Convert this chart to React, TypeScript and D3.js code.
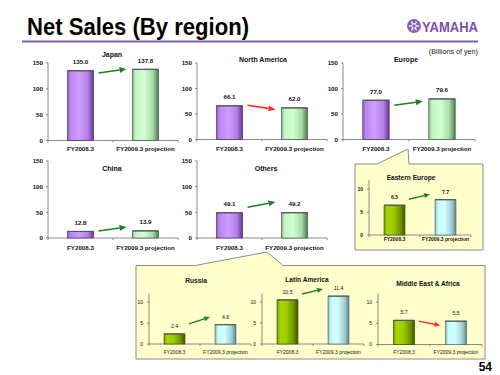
import React from "react";
import * as d3 from "d3";

// ---------- data ----------
const categories = ["FY2008.3", "FY2009.3 projection"];
const mainRegions = ["Japan", "North America", "Europe", "China", "Others"];
const mainPrev = [135.0, 66.1, 77.0, 12.8, 49.1];
const mainProj = [137.8, 62.0, 79.6, 13.9, 49.2];
const mainTicks = [0, 50, 100, 150];
const mainArrowFrom = [130.8, 67, 67, 13.6, 60];
const mainArrowTo = [138.5, 59, 75, 21.4, 70];

const subRegions = ["Eastern Europe", "Russia", "Latin America", "Middle East & Africa"];
const subPrev = [6.5, 2.4, 10.5, 5.7];
const subProj = [7.7, 4.6, 11.4, 5.5];
const subTicks = [0, 5, 10];
const subArrowFrom = [7.8, 4.8, 11.9, 5.5];
const subArrowTo = [8.9, 6.4, 13.1, 4.5];

// ---------- layout ----------
const mainFrames = [
  { x0: 48, x1: 178, yTop: 63, yBase: 140.5, titleX: 112, titleY: 57, labelY: 150.5 },
  { x0: 197, x1: 327, yTop: 63, yBase: 139.5, titleX: 263, titleY: 61.5, labelY: 150.5 },
  { x0: 343, x1: 475, yTop: 63, yBase: 139.5, titleX: 406, titleY: 61.5, labelY: 150.5 },
  { x0: 48, x1: 178, yTop: 161, yBase: 238, titleX: 112, titleY: 171, labelY: 250 },
  { x0: 197, x1: 327, yTop: 161, yBase: 238, titleX: 266, titleY: 171, labelY: 250 },
];
const subFrames = [
  { x0: 369, x1: 471, yTop: 180, yBase: 235, titleX: 411, titleY: 180, labelY: 241, bold: true },
  { x0: 149, x1: 251, yTop: 293.6, yBase: 344, titleX: 196, titleY: 283, labelY: 354, bold: false },
  { x0: 262, x1: 364, yTop: 293.6, yBase: 344, titleX: 307, titleY: 282, labelY: 354, bold: false },
  { x0: 378, x1: 482, yTop: 293.6, yBase: 344.5, titleX: 428, titleY: 285.5, labelY: 354, bold: false },
];

const FONT = "'Liberation Sans', Arial, Helvetica, sans-serif";
const GREEN = "#1f7f1f";
const RED = "#ff2a2a";

function Arrow({ x1, y1, x2, y2, color, head, hw, sw }: any) {
  const a = Math.atan2(y2 - y1, x2 - x1);
  const bx = x2 - head * Math.cos(a);
  const by = y2 - head * Math.sin(a);
  const px = (Math.sin(a) * hw) / 2;
  const py = (-Math.cos(a) * hw) / 2;
  return (
    <g>
      <line x1={x1} y1={y1} x2={bx} y2={by} stroke={color} strokeWidth={sw} />
      <polygon points={`${x2},${y2} ${bx + px},${by + py} ${bx - px},${by - py}`} fill={color} />
    </g>
  );
}

function BarChart({ frame, title, values, arrow, ticks, domainMax, small, grads }: any) {
  const x = d3
    .scaleBand<string>()
    .domain(categories)
    .range([frame.x0, frame.x1])
    .paddingInner(small ? 0.59 : 0.6)
    .paddingOuter(small ? 0.295 : 0.3);
  const y = d3.scaleLinear().domain([0, domainMax]).range([frame.yBase, frame.yTop]);
  const tickFs = small ? 5 : 6.2;
  const tickW = small ? (frame.bold ? 700 : 400) : 700;
  const labFs = small ? 5 : 6.2;
  const valFs = small ? 5.2 : 6.2;
  const titleFs = small ? 6.6 : 7;
  const axisColor = "#6e6e6e";
  const mid = (x(categories[0])! + x.bandwidth() + x(categories[1])!) / 2;
  const up = values[1] >= values[0];
  const arrowColor = up ? GREEN : RED;
  const ax1 = x(categories[0])! + x.bandwidth() + (small ? 4 : 5);
  const ax2 = x(categories[1])! - (small ? 5 : 6);
  const strokes: Record<string, string> = { purple: "#4b2d6b", green: "#3c5c3c", yg: "#3d5200", blue: "#4d6f78" };
  return (
    <g fontFamily={FONT}>
      <text x={frame.titleX} y={frame.titleY} textAnchor="middle" fontSize={titleFs} fontWeight={700} fill="#111">
        {title}
      </text>
      {/* y axis */}
      <line x1={frame.x0} x2={frame.x0} y1={y(domainMax)} y2={frame.yBase} stroke={axisColor} strokeWidth={0.8} />
      {ticks.map((t: number) => (
        <g key={t}>
          <line x1={frame.x0 - 2} x2={frame.x0} y1={y(t)} y2={y(t)} stroke={axisColor} strokeWidth={0.8} />
          <text
            x={frame.x0 - (small ? 6 : 5)}
            y={y(t)}
            dy="0.35em"
            textAnchor="end"
            fontSize={tickFs}
            fontWeight={tickW}
            fill="#111"
          >
            {t}
          </text>
        </g>
      ))}
      {/* x axis */}
      <line x1={frame.x0} x2={frame.x1} y1={frame.yBase} y2={frame.yBase} stroke={axisColor} strokeWidth={0.8} />
      {[frame.x0, mid, frame.x1].map((tx: number, i: number) => (
        <line key={i} x1={tx} x2={tx} y1={frame.yBase} y2={frame.yBase + 2} stroke={axisColor} strokeWidth={0.8} />
      ))}
      {categories.map((c, i) => (
        <g key={c}>
          <rect
            x={x(c)}
            y={y(values[i])}
            width={x.bandwidth()}
            height={frame.yBase - y(values[i])}
            fill={`url(#${grads[i]})`}
            stroke={strokes[grads[i]]}
            strokeWidth={0.7}
          />
          <line
            x1={x(c)}
            x2={x(c)! + x.bandwidth()}
            y1={y(values[i])}
            y2={y(values[i])}
            stroke="#555"
            strokeWidth={1.2}
          />
          <text
            x={x(c)! + x.bandwidth() / 2}
            y={y(values[i]) - (small ? 6 : 6.5)}
            textAnchor="middle"
            fontSize={valFs}
            fontWeight={small && !frame.bold ? 400 : 700}
            fill="#111"
          >
            {values[i].toFixed(1)}
          </text>
          <text
            x={x(c)! + x.bandwidth() / 2}
            y={frame.labelY}
            textAnchor="middle"
            fontSize={labFs}
            fontWeight={small && !frame.bold ? 400 : 700}
            fill="#111"
          >
            {c}
          </text>
        </g>
      ))}
      <Arrow
        x1={ax1}
        y1={y(arrow[0])}
        x2={ax2}
        y2={y(arrow[1])}
        color={arrowColor}
        head={small ? 6 : 7}
        hw={small ? 5 : 6}
        sw={small ? 1.4 : 1.6}
      />
    </g>
  );
}

export default function App() {
  return (
    <svg
      width={500}
      height={375}
      viewBox="0 0 500 375"
      style={{ position: "absolute", left: 0, top: 0, display: "block", background: "#fff", opacity: 0.999 }}
    >
      <defs>
        <linearGradient id="purple" x1="0" x2="1" y1="0" y2="0">
          <stop offset="0" stopColor="#8e60bc" />
          <stop offset="0.12" stopColor="#bb88f2" />
          <stop offset="0.45" stopColor="#cf9cff" />
          <stop offset="0.78" stopColor="#b580e6" />
          <stop offset="1" stopColor="#66398e" />
        </linearGradient>
        <linearGradient id="green" x1="0" x2="1" y1="0" y2="0">
          <stop offset="0" stopColor="#8cb88c" />
          <stop offset="0.12" stopColor="#c4f4c4" />
          <stop offset="0.45" stopColor="#d2ffd2" />
          <stop offset="0.78" stopColor="#a9d9a9" />
          <stop offset="1" stopColor="#4f7a4f" />
        </linearGradient>
        <linearGradient id="yg" x1="0" x2="1" y1="0" y2="0">
          <stop offset="0" stopColor="#7a9a00" />
          <stop offset="0.15" stopColor="#a6d600" />
          <stop offset="0.45" stopColor="#9dcc00" />
          <stop offset="0.8" stopColor="#6f9200" />
          <stop offset="1" stopColor="#3f5400" />
        </linearGradient>
        <linearGradient id="blue" x1="0" x2="1" y1="0" y2="0">
          <stop offset="0" stopColor="#8fb9bf" />
          <stop offset="0.15" stopColor="#c8fbff" />
          <stop offset="0.45" stopColor="#d2ffff" />
          <stop offset="0.8" stopColor="#a2ccd2" />
          <stop offset="1" stopColor="#5d8389" />
        </linearGradient>
      </defs>

      {/* header */}
      <text x={27} y={35} fontFamily={FONT} fontSize={24} fontWeight={700} fill="#000" textLength={222} lengthAdjust="spacingAndGlyphs">
        Net Sales (By region)
      </text>
      <line x1={22} x2={478} y1={41.5} y2={41.5} stroke="#8560ad" strokeWidth={2} />
      <g>
        <circle cx={414} cy={26} r={7} fill="#8a63b8" />
        {[0, 60, 120].map((a) => (
          <line
            key={a}
            x1={414 + 5 * Math.cos((a * Math.PI) / 180)}
            y1={26 + 5 * Math.sin((a * Math.PI) / 180)}
            x2={414 - 5 * Math.cos((a * Math.PI) / 180)}
            y2={26 - 5 * Math.sin((a * Math.PI) / 180)}
            stroke="#fff"
            strokeWidth={1.2}
          />
        ))}
        <circle cx={414} cy={26} r={2.2} fill="#8a63b8" stroke="#fff" strokeWidth={0.8} />
      </g>
      <text x={422} y={32} fontFamily={FONT} fontSize={15} fontWeight={700} fill="#7b4fae" textLength={56} lengthAdjust="spacingAndGlyphs">
        YAMAHA
      </text>
      <text x={478} y={54} fontFamily={FONT} fontSize={7.2} textAnchor="end" fill="#222">
        (Billions of yen)
      </text>

      {/* callouts */}
      <path
        d="M355,164 L377,164 L408,149 L409,164 L483,164 L483,250 L355,250 Z"
        fill="#ffffcc"
        stroke="#8c8c8c"
        strokeWidth={1}
      />
      <path
        d="M136,265.5 L195,265.5 L267,252 L283,265.5 L485,265.5 L485,359 L136,359 Z"
        fill="#ffffcc"
        stroke="#8c8c8c"
        strokeWidth={1}
      />

      {mainRegions.map((r, i) => (
        <BarChart
          key={r}
          frame={mainFrames[i]}
          title={r}
          values={[mainPrev[i], mainProj[i]]}
          arrow={[mainArrowFrom[i], mainArrowTo[i]]}
          ticks={mainTicks}
          domainMax={150}
          small={false}
          grads={["purple", "green"]}
        />
      ))}
      {subRegions.map((r, i) => (
        <BarChart
          key={r}
          frame={subFrames[i]}
          title={r}
          values={[subPrev[i], subProj[i]]}
          arrow={[subArrowFrom[i], subArrowTo[i]]}
          ticks={subTicks}
          domainMax={12}
          small={true}
          grads={["yg", "blue"]}
        />
      ))}

      <text x={492} y={371} fontFamily={FONT} fontSize={12} fontWeight={700} textAnchor="end" fill="#000">
        54
      </text>
    </svg>
  );
}
